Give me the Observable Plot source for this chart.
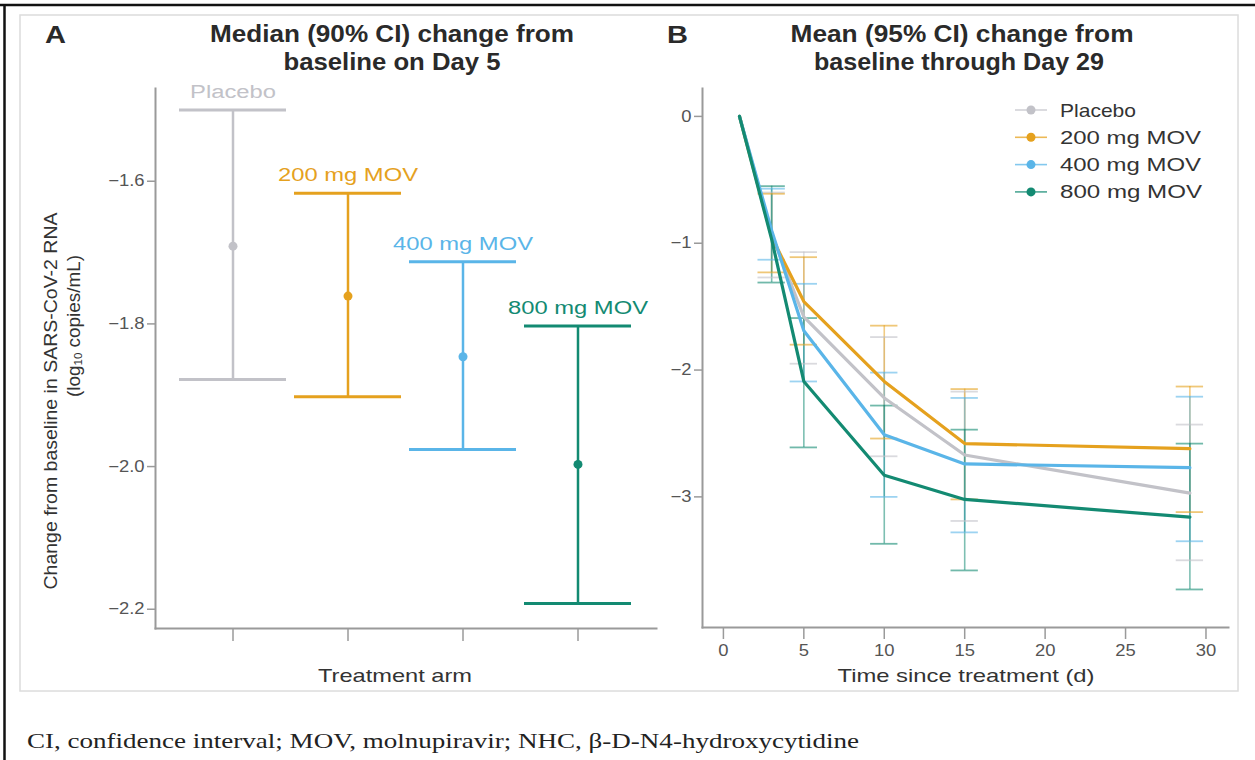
<!DOCTYPE html>
<html>
<head>
<meta charset="utf-8">
<script src="https://cdn.jsdelivr.net/npm/d3@7"></script>
<script src="https://cdn.jsdelivr.net/npm/@observablehq/plot@0.6"></script>
<style>
  body { margin: 0; background: #fff; }
  #root { position: relative; width: 1255px; height: 760px; overflow: hidden; font-family: "Liberation Sans", Arial, sans-serif; }
  #root > svg { position: absolute; }
</style>
</head>
<body>
<div id="root"></div>
<script>
// ---------- Data ----------
const arms = ["Placebo", "200 mg MOV", "400 mg MOV", "800 mg MOV"];
const armColors = ["#c2c2c8", "#e5a11e", "#5ab5e8", "#138a72"];

// Panel A: median (90% CI) change on Day 5
const day5Median = [-1.691, -1.761, -1.846, -1.997];
const day5Lower  = [-1.878, -1.902, -1.976, -2.192];
const day5Upper  = [-1.500, -1.617, -1.713, -1.803];
const panelAYTicks = [-1.6, -1.8, -2.0, -2.2];

// Panel B: mean (95% CI) change through Day 29
const days = [1, 3, 5, 10, 15, 29];
const meanPlacebo = [0, -0.93, -1.58, -2.22, -2.67, -2.97];
const mean200 = [0, -0.95, -1.46, -2.09, -2.58, -2.62];
const mean400 = [0, -0.90, -1.69, -2.51, -2.74, -2.77];
const mean800 = [0, -0.97, -2.09, -2.83, -3.02, -3.16];
const ciDays = [3, 5, 10, 15, 29];
const lowerPlacebo = [-1.27, -1.95, -2.68, -3.19, -3.50];
const upperPlacebo = [-0.60, -1.07, -1.74, -2.17, -2.43];
const lower200 = [-1.23, -1.80, -2.54, -3.02, -3.12];
const upper200 = [-0.61, -1.11, -1.65, -2.15, -2.13];
const lower400 = [-1.13, -2.09, -3.00, -3.28, -3.35];
const upper400 = [-0.57, -1.32, -2.02, -2.22, -2.21];
const lower800 = [-1.31, -2.61, -3.37, -3.58, -3.73];
const upper800 = [-0.55, -1.59, -2.28, -2.47, -2.58];
const panelBXTicks = [0, 5, 10, 15, 20, 25, 30];
const panelBYTicks = [0, -1, -2, -3];

const captionText = "CI, confidence interval; MOV, molnupiravir; NHC, \u03B2-D-N4-hydroxycytidine";

// ---------- Derived tables ----------
const armRows = arms.map((a, i) => ({arm: a, color: armColors[i], med: day5Median[i], lo: day5Lower[i], hi: day5Upper[i]}));
const seriesMeans = [meanPlacebo, mean200, mean400, mean800];
const seriesLower = [lowerPlacebo, lower200, lower400, lower800];
const seriesUpper = [upperPlacebo, upper200, upper400, upper800];
const lineRows = arms.flatMap((a, s) => days.map((d, i) => ({series: a, color: armColors[s], day: d, value: seriesMeans[s][i]})));
const ciRows = arms.flatMap((a, s) => ciDays.map((d, i) => ({series: a, color: armColors[s], day: d, lo: seriesLower[s][i], hi: seriesUpper[s][i]})));

const root = document.getElementById("root");
const FONT = '"Liberation Sans", Arial, sans-serif';
const axisGray = "#9a9a9a";
const tickText = "#555";
const minus = s => s.replace("-", "\u2212");

// ---------- Background overlay (frame, titles, labels, caption, legend) ----------
const ov = d3.select(root).append("svg")
  .attr("width", 1255).attr("height", 760)
  .style("left", "0px").style("top", "0px")
  .style("font-family", FONT);

ov.append("rect").attr("x", 20).attr("y", 15).attr("width", 1218).attr("height", 676)
  .attr("fill", "none").attr("stroke", "#dcdcdc").attr("stroke-width", 1.5);
ov.append("line").attr("x1", 0).attr("x2", 1255).attr("y1", 5).attr("y2", 5)
  .attr("stroke", "#111").attr("stroke-width", 2.5);
ov.append("line").attr("x1", 4.5).attr("x2", 4.5).attr("y1", 4).attr("y2", 760)
  .attr("stroke", "#111").attr("stroke-width", 2.5);

function label(x, y, t, opts) {
  const o = Object.assign({anchor: "middle", size: 19, weight: "normal", fill: "#333", len: null}, opts || {});
  const el = ov.append("text").attr("x", x).attr("y", y).attr("text-anchor", o.anchor)
    .attr("font-size", o.size).attr("font-weight", o.weight).attr("fill", o.fill).text(t);
  if (o.len) el.attr("textLength", o.len).attr("lengthAdjust", "spacingAndGlyphs");
  return el;
}
const bold = {size: 23, weight: "bold", fill: "#2a2a2a"};
label(45, 43, "A", Object.assign({}, bold, {anchor: "start", len: 21}));
label(392, 42, "Median (90% CI) change from", Object.assign({}, bold, {len: 364}));
label(392, 70, "baseline on Day 5", Object.assign({}, bold, {len: 217}));
label(667, 43, "B", Object.assign({}, bold, {anchor: "start", len: 21}));
label(962, 42, "Mean (95% CI) change from", Object.assign({}, bold, {len: 343}));
label(959, 70, "baseline through Day 29", Object.assign({}, bold, {len: 290}));

// y label panel A (two lines, rotated)
ov.append("text").attr("transform", "translate(50,401) rotate(-90)")
  .attr("text-anchor", "middle").attr("dominant-baseline", "central")
  .attr("font-size", 19).attr("fill", "#333")
  .attr("textLength", 377).attr("lengthAdjust", "spacingAndGlyphs")
  .text("Change from baseline in SARS-CoV-2 RNA");
const yl2 = ov.append("text").attr("transform", "translate(74,326) rotate(-90)")
  .attr("text-anchor", "middle").attr("dominant-baseline", "central")
  .attr("font-size", 18).attr("fill", "#333")
  .attr("textLength", 142).attr("lengthAdjust", "spacingAndGlyphs");
yl2.append("tspan").text("(log");
yl2.append("tspan").attr("font-size", 11).attr("dy", 4).text("10");
yl2.append("tspan").attr("dy", -4).text(" copies/mL)");

label(395, 682, "Treatment arm", {len: 154});
label(966, 682, "Time since treatment (d)", {len: 257});

// caption
ov.append("text").attr("x", 27).attr("y", 748)
  .attr("font-family", '"Liberation Serif", "Times New Roman", serif')
  .attr("font-size", 21).attr("fill", "#222")
  .attr("textLength", 832).attr("lengthAdjust", "spacingAndGlyphs")
  .text(captionText);

// legend for panel B
const legendLens = [76, 141, 141, 142];
arms.forEach((a, i) => {
  const y = 110 + i * 27.3;
  ov.append("line").attr("x1", 1015).attr("x2", 1047).attr("y1", y).attr("y2", y)
    .attr("stroke", armColors[i]).attr("stroke-width", 1.6).attr("stroke-opacity", 0.75);
  ov.append("circle").attr("cx", 1031).attr("cy", y).attr("r", 4.5).attr("fill", armColors[i]);
  ov.append("text").attr("x", 1060).attr("y", y).attr("dominant-baseline", "central")
    .attr("font-size", 19).attr("fill", "#333")
    .attr("textLength", legendLens[i]).attr("lengthAdjust", "spacingAndGlyphs").text(a);
});

// widen Plot's own texts to match the reference's horizontally stretched lettering
function stretch(svg, selector, factor) {
  d3.select(svg).selectAll(selector).each(function () {
    const w = this.getComputedTextLength();
    if (w > 0) {
      this.setAttribute("textLength", w * factor);
      this.setAttribute("lengthAdjust", "spacingAndGlyphs");
    }
  });
}

// ---------- Panel A ----------
const plotA = Plot.plot({
  width: 660, height: 700,
  marginLeft: 155, marginRight: 4, marginTop: 88, marginBottom: 72,
  style: {fontFamily: FONT, fontSize: "16px", color: tickText, background: "transparent", overflow: "visible"},
  x: {type: "band", domain: arms, paddingInner: 0.069, paddingOuter: 0.194, axis: null},
  y: {domain: [-2.227, -1.47], axis: null},
  color: {type: "identity"},
  marks: [
    Plot.axisY(panelAYTicks, {tickSize: 8, tickPadding: 3, tickFormat: d => minus(d.toFixed(1)), stroke: axisGray, strokeWidth: 1.5, fill: tickText, fontSize: 16, label: null}),
    Plot.axisX(arms, {anchor: "bottom", tickSize: 13, tickFormat: () => "", stroke: axisGray, strokeWidth: 1.5, label: null}),
    Plot.frame({anchor: "left", stroke: axisGray, strokeWidth: 2}),
    Plot.frame({anchor: "bottom", stroke: axisGray, strokeWidth: 2}),
    Plot.ruleX(armRows, {x: "arm", y1: "lo", y2: "hi", stroke: "color", strokeWidth: 2.5}),
    Plot.tickY(armRows, {x: "arm", y: "lo", stroke: "color", strokeWidth: 3}),
    Plot.tickY(armRows, {x: "arm", y: "hi", stroke: "color", strokeWidth: 3}),
    Plot.dot(armRows, {x: "arm", y: "med", fill: "color", r: 4.5}),
    Plot.text(armRows, {x: "arm", y: "hi", text: "arm", fill: "color", dy: -18, fontSize: 18})
  ]
});
d3.select(plotA).style("left", "0px").style("top", "0px");
root.appendChild(plotA);
stretch(plotA, 'g[aria-label="text"] text', 1.32);
stretch(plotA, 'g[aria-label$="tick label"] text', 1.15);

// ---------- Panel B ----------
const capHalf = 0.85; // cap half-width in days (style)
const plotB = Plot.plot({
  width: 615, height: 700,
  marginLeft: 62, marginRight: 27, marginTop: 88, marginBottom: 73,
  style: {fontFamily: FONT, fontSize: "16px", color: tickText, background: "transparent", overflow: "visible"},
  x: {domain: [-1.3, 31.4], axis: null},
  y: {domain: [-4.03, 0.22], axis: null},
  color: {type: "identity"},
  marks: [
    Plot.axisY(panelBYTicks, {tickSize: 8, tickPadding: 3, tickFormat: d => minus(String(d)), stroke: axisGray, strokeWidth: 1.5, fill: tickText, fontSize: 16, label: null}),
    Plot.axisX(panelBXTicks, {anchor: "bottom", tickSize: 12, tickPadding: 5, tickFormat: d => String(d), stroke: axisGray, strokeWidth: 1.5, fill: tickText, fontSize: 16, label: null}),
    Plot.frame({anchor: "left", stroke: axisGray, strokeWidth: 2}),
    Plot.frame({anchor: "bottom", stroke: axisGray, strokeWidth: 2}),
    Plot.ruleX(ciRows, {x: "day", y1: "lo", y2: "hi", stroke: "color", strokeWidth: 1.6, strokeOpacity: 0.55}),
    Plot.ruleY(ciRows, {y: "lo", x1: d => d.day - capHalf, x2: d => d.day + capHalf, stroke: "color", strokeWidth: 1.8, strokeOpacity: 0.6}),
    Plot.ruleY(ciRows, {y: "hi", x1: d => d.day - capHalf, x2: d => d.day + capHalf, stroke: "color", strokeWidth: 1.8, strokeOpacity: 0.6}),
    Plot.line(lineRows, {x: "day", y: "value", z: "series", stroke: "color", strokeWidth: 3.2})
  ]
});
d3.select(plotB).style("left", "640px").style("top", "0px");
root.appendChild(plotB);
stretch(plotB, 'g[aria-label$="tick label"] text', 1.15);
</script>
</body>
</html>
